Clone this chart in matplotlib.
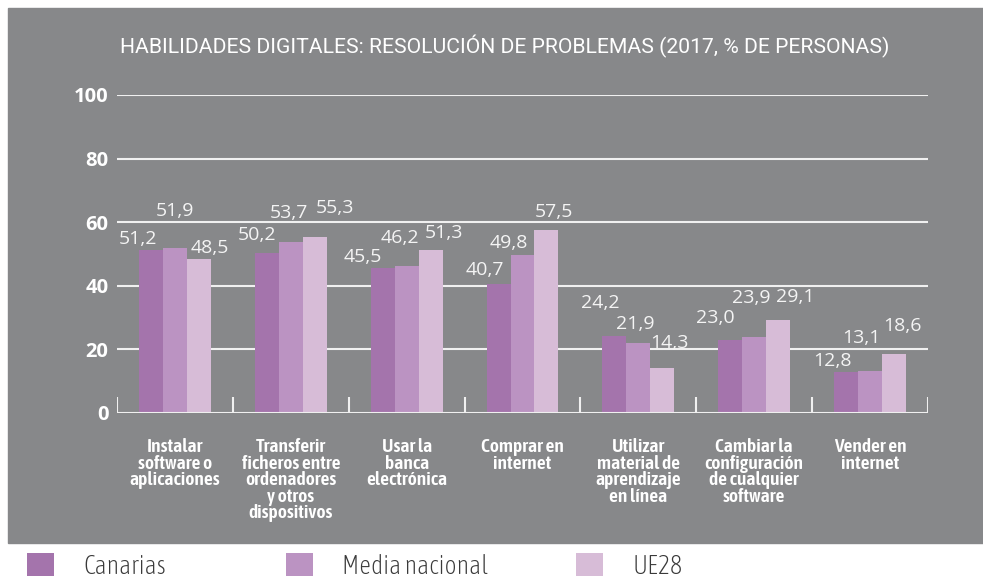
import matplotlib.pyplot as plt
import numpy as np
from matplotlib.patches import Rectangle

plt.rcParams['font.family'] = ['Open Sans', 'DejaVu Sans']
condensada = ['Asap Condensed', 'Open Sans', 'DejaVu Sans']

# Datos
categorias = [
    'Instalar\nsoftware o\naplicaciones',
    'Transferir\nficheros entre\nordenadores\ny otros\ndispositivos',
    'Usar la\nbanca\nelectrónica',
    'Comprar en\ninternet',
    'Utilizar\nmaterial de\naprendizaje\nen línea',
    'Cambiar la\nconfiguración\nde cualquier\nsoftware',
    'Vender en\ninternet',
]
canarias = [51.2, 50.2, 45.5, 40.7, 24.2, 23.0, 12.8]
media_nacional = [51.9, 53.7, 46.2, 49.8, 21.9, 23.9, 13.1]
ue28 = [48.5, 55.3, 51.3, 57.5, 14.3, 29.1, 18.6]
series = ['Canarias', 'Media nacional', 'UE28']
titulo = 'HABILIDADES DIGITALES: RESOLUCIÓN DE PROBLEMAS (2017, % DE PERSONAS)'

colores = ['#a474ac', '#bb93c2', '#d7bcd7']
fondo = '#87888a'

# desplazamiento de las etiquetas (px) respecto a lo alto de cada barra
offsets = [
    [(-13, 11), (-10, 18), (-20, 11), (-14, 14), (-14, 33), (-15, 22), (-14, 11)],
    [(0, 37), (-2, 29), (-7, 28), (-14, 12), (-3, 19), (-3, 39), (-9, 33)],
    [(11, 11), (20, 29), (13, 17), (7, 18), (7, 25), (17, 23), (8, 28)],
]
# posición x (px) de cada entrada de la leyenda
leyenda_x = [27, 286, 576]

fig = plt.figure(figsize=(9.83, 5.80), dpi=100)
fig.patch.set_facecolor('white')
fig.patches.append(Rectangle((8 / 983, 37 / 580), 1, 535 / 580,
                             transform=fig.transFigure, color=fondo, zorder=-10))

ax = fig.add_axes([117 / 983, 167 / 580, 811 / 983, 318 / 580])
ax.set_facecolor('none')

x = np.arange(len(categorias))
w = 0.207
barras = []
for i, (nombre, vals) in enumerate(zip(series, [canarias, media_nacional, ue28])):
    b = ax.bar(x + (i - 1) * w, vals, w, color=colores[i], label=nombre, zorder=3)
    barras.append(b)
    for j, v in enumerate(vals):
        dx, dy = offsets[i][j]
        ax.annotate(f'{v:.1f}'.replace('.', ','), (x[j] + (i - 1) * w, v),
                    xytext=(dx, dy), textcoords='offset pixels',
                    ha='center', va='center', color='#f4f4f4', fontsize=14,
                    zorder=4)

ax.set_xlim(-0.5, len(categorias) - 0.5)
ax.set_ylim(0, 100)
ax.set_yticks([0, 20, 40, 60, 80, 100])
for yv in [20, 40, 60, 80, 100]:
    ax.axhline(yv, color='#f0f0f0', lw=1.5, zorder=1)
ax.axhline(0, color='#f0f0f0', lw=1.5, zorder=5)
ax.vlines(np.arange(len(categorias) + 1) - 0.5, 0, 5, color='#f0f0f0', lw=1.5, zorder=5)

for s in ax.spines.values():
    s.set_visible(False)
ax.tick_params(axis='y', length=0, pad=6, labelcolor='white', labelsize=14.5)
for t in ax.get_yticklabels():
    t.set_fontweight('bold')
ax.set_xticks(x)
ax.set_xticklabels(categorias, color='white', fontsize=14, fontweight=600,
                   linespacing=0.9, family=condensada)
ax.tick_params(axis='x', length=0, pad=18)

fig.text(505 / 983, 1 - 46 / 580, titulo, ha='center', va='center',
         color='white', fontsize=15.2, family=['Roboto', 'DejaVu Sans'])

# leyenda: tres entradas en posiciones fijas
for i, b in enumerate(barras):
    leg = fig.legend(handles=[b], loc='center left', frameon=False,
                     bbox_to_anchor=(leyenda_x[i] / 983, 1 - 566 / 580),
                     prop={'family': condensada, 'size': 18.5, 'weight': 'light'},
                     handlelength=1.05, handleheight=1.0,
                     handletextpad=1.13, borderpad=0, borderaxespad=0)
    for t in leg.get_texts():
        t.set_color('#3a3a3a')

fig.savefig('out.png', dpi=100, facecolor=fig.get_facecolor())
